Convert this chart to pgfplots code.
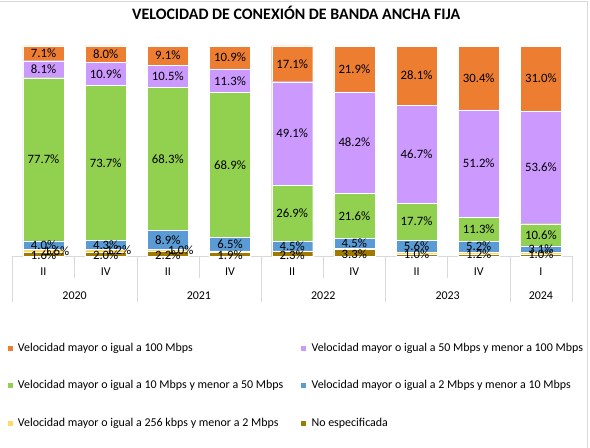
\documentclass[border=0pt]{standalone}
\usepackage{fontspec}
\setmainfont{Carlito}
\usepackage{pgfplots}
\pgfplotsset{compat=1.18}
\usepackage{pgfplotstable}
\definecolor{cOr}{HTML}{ED7D31}
\definecolor{cPu}{HTML}{CC99FF}
\definecolor{cGr}{HTML}{92D050}
\definecolor{cBl}{HTML}{5B9BD5}
\definecolor{cYe}{HTML}{FFD966}
\definecolor{cBr}{HTML}{A07A00}
\definecolor{cGl}{HTML}{D9D9D9}

\pgfplotstableread{
x br ye bl gr pu or
0 1.6 1.6 4.0 77.7 8.1 7.1
1 2.0 1.2 4.3 73.7 10.9 8.0
2 2.2 1.0 8.9 68.3 10.5 9.1
3 1.9 0.5 6.5 68.9 11.3 10.9
4 2.3 0.2 4.5 26.9 49.1 17.1
5 3.3 0.5 4.5 21.6 48.2 21.9
6 0.9 1.0 5.6 17.7 46.7 28.1
7 0.7 1.2 5.2 11.3 51.2 30.4
8 0.7 1.0 3.1 10.6 53.6 31.0
}\data

\newcommand{\fs}{\fontsize{12}{14}\selectfont}
\newcommand{\fl}{\fontsize{12.8}{14}\selectfont}

\begin{document}
\begin{tikzpicture}
\useasboundingbox (-12.4bp,-192bp) rectangle (577.6bp,256bp);
\pgfplotsset{
  base/.style={scale only axis, width=559.6bp, height=210bp,
    xmin=-0.5, xmax=8.5, ymin=0, ymax=100, at={(0,0)}, anchor=south west},
}
\begin{axis}[base, ybar stacked, bar width=41bp, clip=false,
  hide y axis, axis x line*=bottom,
  x axis line style={-, draw=cGl},
  xtick={0,...,8}, xticklabels={II,IV,II,IV,II,IV,II,IV,I},
  major tick length=0pt,
  xticklabel style={font=\fs, anchor=base, yshift=-19bp},
  title={VELOCIDAD DE CONEXIÓN DE BANDA ANCHA FIJA},
  title style={font=\bfseries\fontsize{16}{19}\selectfont, at={(0.5,1)}, anchor=base, yshift=20.5bp, xshift=4bp},
  legend columns=2, reverse legend,
  legend cell align=left,
  legend style={draw=none, fill=none, at={(0,0)}, anchor=north west,
    xshift=-6bp, yshift=-85bp, font=\fs, inner sep=0pt,
    row sep=23.5bp,
    /tikz/every odd column/.append style={column sep=3bp},
    /tikz/every even column/.append style={column sep=15bp}},
  legend image code/.code={\fill[#1] (0bp,-3bp) rectangle (6bp,3bp);},
]
\addplot[fill=cBr, draw=white, line width=0.3bp] table[x=x,y=br]{\data};
\addplot[fill=cYe, draw=white, line width=0.3bp] table[x=x,y=ye]{\data};
\addplot[fill=cBl, draw=white, line width=0.3bp] table[x=x,y=bl]{\data};
\addplot[fill=cGr, draw=white, line width=0.3bp] table[x=x,y=gr]{\data};
\addplot[fill=cPu, draw=white, line width=0.3bp] table[x=x,y=pu]{\data};
\addplot[fill=cOr, draw=white, line width=0.3bp] table[x=x,y=or]{\data};
\legend{No especificada,
  Velocidad mayor o igual a 256 kbps y menor a 2 Mbps,
  Velocidad mayor o igual a 2 Mbps y menor a 10 Mbps,
  Velocidad mayor o igual a 10 Mbps y menor a 50 Mbps,
  Velocidad mayor o igual a 50 Mbps y menor a 100 Mbps,
  Velocidad mayor o igual a 100 Mbps}
\foreach \xx in {-0.5,1.5,3.5,5.5,7.5,8.5}{
  \edef\tmp{\noexpand\draw[cGl] (axis cs:\xx,0) -- ++(0pt,-46bp);}\tmp
}
\foreach \xx in {0.5,2.5,4.5,6.5}{
  \edef\tmp{\noexpand\draw[cGl] (axis cs:\xx,0) -- ++(0pt,-22bp);}\tmp
}
\node[font=\fs, anchor=base, yshift=-43bp] at (axis cs:0.5,0) {2020};
\node[font=\fs, anchor=base, yshift=-43bp] at (axis cs:2.5,0) {2021};
\node[font=\fs, anchor=base, yshift=-43bp] at (axis cs:4.5,0) {2022};
\node[font=\fs, anchor=base, yshift=-43bp] at (axis cs:6.5,0) {2023};
\node[font=\fs, anchor=base, yshift=-43bp] at (axis cs:8,0) {2024};
\end{axis}
\begin{axis}[base, hide axis, no marks, clip=false,
  /pgf/number format/assume math mode=true,
  nodes near coords={\pgfmathprintnumber[fixed,fixed zerofill,precision=1]{\pgfplotspointmeta}\%},
  nodes near coords style={font=\fl, anchor=center, inner sep=0pt},
  point meta=explicit]
\addplot[draw=none] table[x=x, y expr=\thisrow{br}+\thisrow{ye}+\thisrow{bl}+\thisrow{gr}+\thisrow{pu}+\thisrow{or}/2, meta=or]{\data};
\addplot[draw=none] table[x=x, y expr=\thisrow{br}+\thisrow{ye}+\thisrow{bl}+\thisrow{gr}+\thisrow{pu}/2, meta=pu]{\data};
\addplot[draw=none] table[x=x, y expr=\thisrow{br}+\thisrow{ye}+\thisrow{bl}+\thisrow{gr}/2, meta=gr]{\data};
\addplot[draw=none] table[x=x, y expr=\thisrow{br}+\thisrow{ye}+\thisrow{bl}/2, meta=bl]{\data};
\addplot[draw=none, restrict x to domain=0:5] table[x=x, y expr=\thisrow{br}/2-0.6, meta=br]{\data};
\addplot[draw=none, restrict x to domain=0:2, nodes near coords style={xshift=13bp}] table[x=x, y expr=\thisrow{br}+\thisrow{ye}/2, meta=ye]{\data};
\addplot[draw=none, restrict x to domain=6:8] table[x=x, y expr=\thisrow{br}+\thisrow{ye}/2-0.4, meta=ye]{\data};
\end{axis}
\draw[cGl] (-12.4bp,255bp) -- (574.6bp,255bp) -- (574.6bp,-192bp);
\end{tikzpicture}
\end{document}
